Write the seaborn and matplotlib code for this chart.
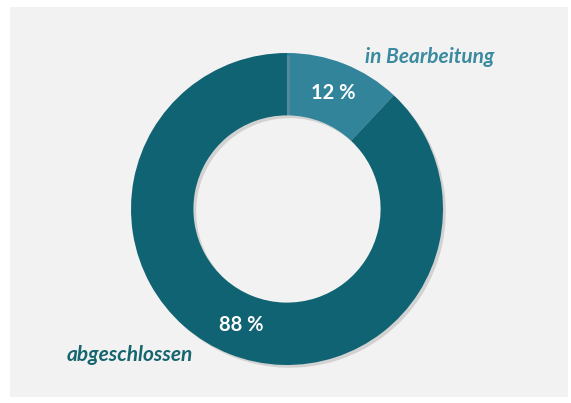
import matplotlib
matplotlib.use("Agg")
import matplotlib.pyplot as plt
import matplotlib.patches as mpatches
import matplotlib.patheffects as pe
import seaborn as sns

categories = ["in Bearbeitung", "abgeschlossen"]
values = [12, 88]
colors = ["#32849b", "#106372"]
label_colors = ["#3a8aa0", "#17656f"]

sns.set_theme(style="white")
plt.rcParams["font.family"] = ["Lato", "DejaVu Sans"]

W, H = 571, 403
fig = plt.figure(figsize=(W / 100, H / 100), dpi=100)
fig.patch.set_facecolor("white")
fig.patches.append(mpatches.Rectangle((10 / W, 6 / H), 558 / W, 390 / H,
                                      transform=fig.transFigure, facecolor="#f2f2f2",
                                      edgecolor="none", zorder=-10))

cx, cy, r = 287, H - 209, 156
ax = fig.add_axes([(cx - r) / W, (cy - r) / H, 2 * r / W, 2 * r / H])
ax.set_facecolor("none")
ax.set_zorder(5)

wedges, texts, autotexts = ax.pie(
    values, colors=colors, startangle=90, counterclock=False,
    wedgeprops=dict(width=0.4, edgecolor="none"),
    autopct=lambda p: f"{round(p)} %", pctdistance=0.8,
    textprops=dict(color="white", fontsize=14.5, fontweight="bold"),
)
for w in wedges:
    w.set_path_effects([pe.SimplePatchShadow(offset=(2, -2), shadow_rgbFace="#999999", alpha=0.35), pe.Normal()])

ax.text(0.917, 0.974, categories[0], ha="center", va="center", fontsize=15,
        fontweight="bold", fontstyle="italic", color=label_colors[0], clip_on=False)
ax.text(-1.006, -0.936, categories[1], ha="center", va="center", fontsize=15,
        fontweight="bold", fontstyle="italic", color=label_colors[1], clip_on=False)

ax.set_xlim(-1, 1)
ax.set_ylim(-1, 1)
ax.set_aspect("equal")
ax.axis("off")

fig.savefig("out.png", dpi=100)
